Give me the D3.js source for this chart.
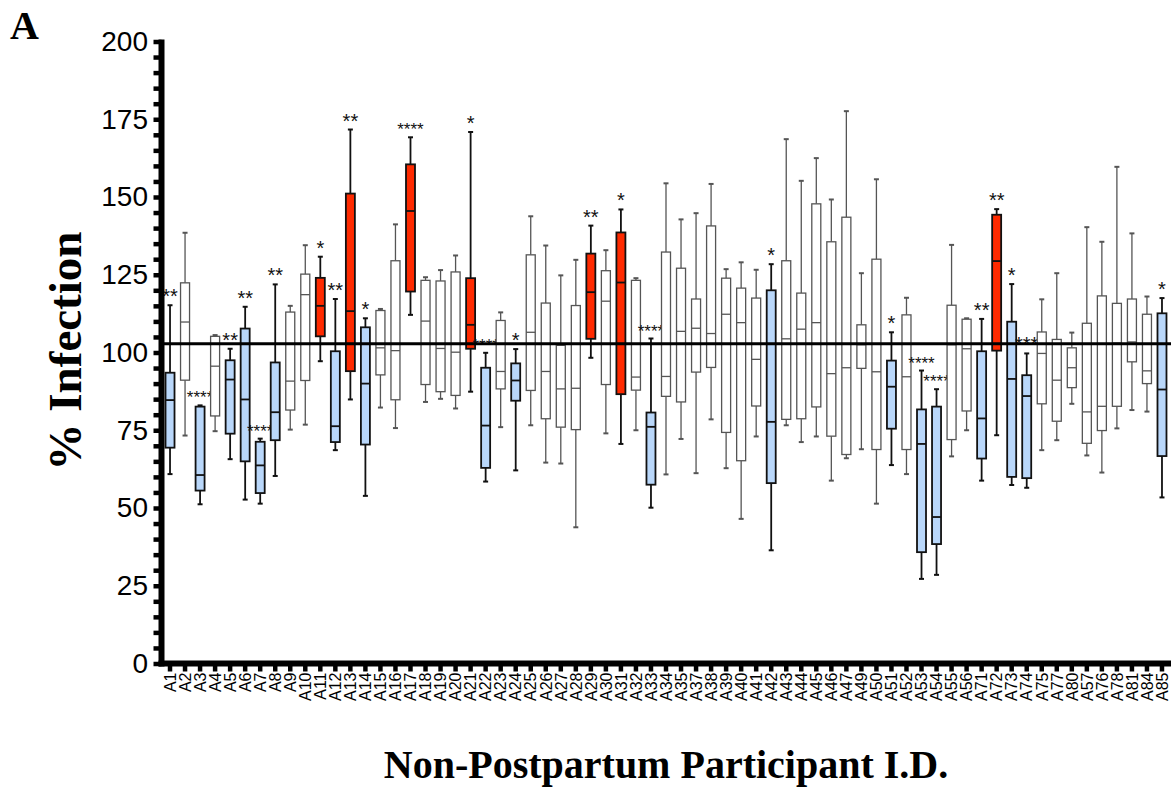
<!DOCTYPE html>
<html>
<head>
<meta charset="utf-8">
<script src="https://cdn.jsdelivr.net/npm/d3@7"></script>
<style>
  html, body { margin: 0; padding: 0; background: #fff; }
  svg { display: block; }
</style>
</head>
<body>
<svg id="chart" width="1171" height="790"></svg>
<script>
// ---------------- data ----------------
const categories = ["A1","A2","A3","A4","A5","A6","A7","A8","A9","A10","A11","A12","A13","A14","A15","A16","A17","A18","A19","A20","A21","A22","A23","A24","A25","A26","A27","A28","A29","A30","A31","A32","A33","A34","A35","A37","A38","A39","A40","A41","A42","A43","A44","A45","A46","A47","A49","A50","A51","A52","A53","A54","A55","A56","A71","A72","A73","A74","A75","A77","A80","A57","A76","A78","A81","A84","A85"];
const whiskerLow = [60.9,73.3,51.2,74.7,65.7,52.7,51.4,60.3,75.2,76.8,97.2,68.6,84.9,53.9,82.3,75.7,112.1,84.1,85.1,82.0,87.4,58.5,76.0,62.1,76.6,64.6,64.3,43.8,98.3,74.0,70.6,75.0,50.1,60.8,72.2,61.2,78.5,62.8,46.5,73.0,36.4,76.6,71.2,73.0,58.8,66.0,68.9,51.4,63.8,60.9,27.2,28.5,66.6,75.0,58.8,73.4,57.4,56.5,68.6,71.8,83.5,66.9,61.4,75.6,81.5,81.0,53.4];
const q1 = [69.4,91.1,55.6,79.6,73.9,65.0,54.8,71.8,81.5,91.0,105.2,71.2,94.0,70.4,92.8,84.8,119.6,89.7,87.4,86.2,101.2,62.9,88.3,84.5,87.8,78.7,76.0,75.2,104.4,89.7,86.6,87.9,57.5,85.9,84.1,93.7,95.2,74.3,65.2,82.8,58.0,78.5,78.7,82.5,73.1,67.2,94.9,68.8,75.5,68.8,35.8,38.4,72.0,81.2,65.9,100.6,60.0,59.6,83.5,77.9,88.7,70.8,74.9,82.7,97.0,90.0,66.7];
const median = [84.7,109.8,60.6,95.6,91.3,84.9,63.7,80.8,90.8,118.6,115.0,76.3,113.3,90.0,101.5,100.6,145.5,110.1,101.3,100.1,108.9,76.5,93.9,91.0,106.5,93.9,88.3,88.5,119.4,116.5,122.5,92.1,76.1,92.3,106.8,107.8,106.1,112.3,109.6,97.8,77.7,104.4,107.5,109.6,93.2,95.1,102.5,93.8,89.0,92.2,70.6,47.1,102.5,101.2,78.8,129.4,91.5,86.0,99.7,91.1,95.1,80.9,82.7,103.0,103.4,94.1,88.1];
const q3 = [93.5,122.4,82.6,105.2,97.5,107.7,71.3,96.8,113.0,125.2,124.0,100.4,151.1,108.1,113.5,129.5,160.5,123.2,123.0,125.9,123.9,95.1,110.3,96.5,131.4,115.9,102.3,115.1,131.8,126.3,138.6,123.2,80.7,132.3,127.1,117.2,140.7,123.9,120.7,117.5,120.0,129.5,119.1,147.8,135.6,143.5,108.9,130.0,97.4,112.1,81.7,82.6,115.2,110.7,100.4,144.3,109.9,92.7,106.6,104.2,101.5,109.4,118.2,115.8,117.2,112.3,112.6];
const whiskerHigh = [115.2,138.5,83.0,105.6,101.2,114.7,72.3,121.9,115.0,134.5,130.8,117.2,171.7,111.0,114.0,141.2,169.2,124.2,126.5,131.2,170.9,99.9,112.9,101.1,143.8,134.4,124.8,129.8,140.8,132.9,146.0,123.9,104.5,154.4,142.8,144.8,154.2,126.8,129.0,126.6,128.4,168.6,155.2,162.5,149.2,177.6,125.5,155.7,106.5,117.6,94.2,88.2,134.6,111.0,110.8,146.1,122.0,99.7,117.1,125.5,106.4,140.3,135.6,159.7,138.3,118.0,117.5];
// group: "none" = not significant, "low" = significantly lower, "high" = significantly higher
const group = ["low","none","low","none","low","low","low","low","none","none","high","low","high","low","none","none","high","none","none","none","high","low","none","low","none","none","none","none","high","none","high","none","low","none","none","none","none","none","none","none","low","none","none","none","none","none","none","none","low","none","low","low","none","none","low","high","low","low","none","none","none","none","none","none","none","none","low"];
const stars = ["**","","****","","**","**","****","**","","","*","**","**","*","","","****","","","","*","****","","*","","","","","**","","*","","****","","","","","","","","*","","","","","","","","*","","****","****","","","**","**","*","***","","","","","","","","","*"];
const referenceValue = 102.8;
const yTicks = [0,25,50,75,100,125,150,175,200];

// ---------------- layout ----------------
const svg = d3.select("#chart");
const W = 1171, H = 790;
const axisX = 161.5, axisY = 663.5;
const x = d3.scaleBand().domain(categories).range([162.5, 1169.5]).padding(0);
const y = d3.scaleLinear().domain([0, 200]).range([663.5, 41.5]);

const fills = { none: "#ffffff", low: "#b9d7fa", high: "#ff2a00" };
const strokes = { none: "#555555", low: "#111111", high: "#111111" };
const strokeW = { none: 1.3, low: 1.8, high: 1.8 };

const data = categories.map((c, i) => ({
  c, lo: whiskerLow[i], q1: q1[i], med: median[i], q3: q3[i], hi: whiskerHigh[i], g: group[i], s: stars[i]
}));

const boxW = 9, capW = 5;
const gBoxes = svg.append("g");
const cell = gBoxes.selectAll("g.box").data(data).join("g").attr("class", "box")
  .attr("transform", d => `translate(${x(d.c) + x.bandwidth() / 2},0)`);

// whiskers
cell.append("line").attr("x1", 0).attr("x2", 0)
  .attr("y1", d => y(d.hi)).attr("y2", d => y(d.q3))
  .attr("stroke", d => strokes[d.g]).attr("stroke-width", d => strokeW[d.g]);
cell.append("line").attr("x1", 0).attr("x2", 0)
  .attr("y1", d => y(d.q1)).attr("y2", d => y(d.lo))
  .attr("stroke", d => strokes[d.g]).attr("stroke-width", d => strokeW[d.g]);
cell.append("line").attr("x1", -capW / 2).attr("x2", capW / 2)
  .attr("y1", d => y(d.hi)).attr("y2", d => y(d.hi))
  .attr("stroke", d => strokes[d.g]).attr("stroke-width", 2);
cell.append("line").attr("x1", -capW / 2).attr("x2", capW / 2)
  .attr("y1", d => y(d.lo)).attr("y2", d => y(d.lo))
  .attr("stroke", d => strokes[d.g]).attr("stroke-width", 2);
// box
cell.append("rect").attr("x", -boxW / 2).attr("width", boxW)
  .attr("y", d => y(d.q3)).attr("height", d => y(d.q1) - y(d.q3))
  .attr("fill", d => fills[d.g]).attr("stroke", d => strokes[d.g]).attr("stroke-width", d => strokeW[d.g]);
// median
cell.append("line").attr("x1", -boxW / 2).attr("x2", boxW / 2)
  .attr("y1", d => y(d.med)).attr("y2", d => y(d.med))
  .attr("stroke", d => strokes[d.g]).attr("stroke-width", d => strokeW[d.g]);
// stars
cell.filter(d => d.s).append("text")
  .attr("x", 0).attr("y", d => y(d.hi) - 2)
  .attr("text-anchor", "middle")
  .attr("font-family", "Liberation Sans, Arial, sans-serif")
  .attr("font-size", d => d.s.length > 3 ? 17 : 20)
  .attr("fill", "#111")
  .text(d => d.s);

// reference line
svg.append("line").attr("x1", axisX).attr("x2", W)
  .attr("y1", y(referenceValue)).attr("y2", y(referenceValue))
  .attr("stroke", "#000").attr("stroke-width", 3);

// y axis
const yAxis = d3.axisLeft(y).tickValues(d3.range(0, 201, 5)).tickSize(8)
  .tickFormat(v => yTicks.includes(v) ? v : "");
const gy = svg.append("g").attr("transform", `translate(${axisX},0)`).call(yAxis);
gy.select(".domain").remove();
gy.selectAll(".tick line").attr("stroke", "#000").attr("stroke-width", 4.5);
gy.selectAll(".tick text").attr("x", -13.5)
  .attr("font-family", "Liberation Sans, Arial, sans-serif").attr("font-size", 28).attr("fill", "#000");
svg.append("line").attr("x1", axisX).attr("x2", axisX).attr("y1", y(200) - 2).attr("y2", axisY + 3)
  .attr("stroke", "#000").attr("stroke-width", 6);

// x axis
const xAxis = d3.axisBottom(x).tickSize(8).tickSizeOuter(0);
const gx = svg.append("g").attr("transform", `translate(0,${axisY})`).call(xAxis);
gx.select(".domain").remove();
gx.selectAll(".tick line").attr("stroke", "#000").attr("stroke-width", 4.5);
gx.selectAll(".tick text")
  .attr("transform", "rotate(-90)")
  .attr("text-anchor", "end")
  .attr("x", -9).attr("y", 0).attr("dy", "0.36em")
  .attr("font-family", "Liberation Sans, Arial, sans-serif").attr("font-size", 16).attr("fill", "#000");
svg.append("line").attr("x1", axisX - 3).attr("x2", W).attr("y1", axisY).attr("y2", axisY)
  .attr("stroke", "#000").attr("stroke-width", 6);

// titles
svg.append("text").attr("x", 666).attr("y", 778).attr("text-anchor", "middle")
  .attr("font-family", "Liberation Serif, Times New Roman, serif").attr("font-weight", "bold")
  .attr("font-size", 40).text("Non-Postpartum Participant I.D.");
svg.append("text").attr("transform", "translate(81,351) rotate(-90)").attr("text-anchor", "middle")
  .attr("font-family", "Liberation Serif, Times New Roman, serif").attr("font-weight", "bold")
  .attr("font-size", 47).text("% Infection");
svg.append("text").attr("x", 10).attr("y", 39)
  .attr("font-family", "Liberation Serif, Times New Roman, serif").attr("font-weight", "bold")
  .attr("font-size", 40).text("A");
</script>
</body>
</html>
